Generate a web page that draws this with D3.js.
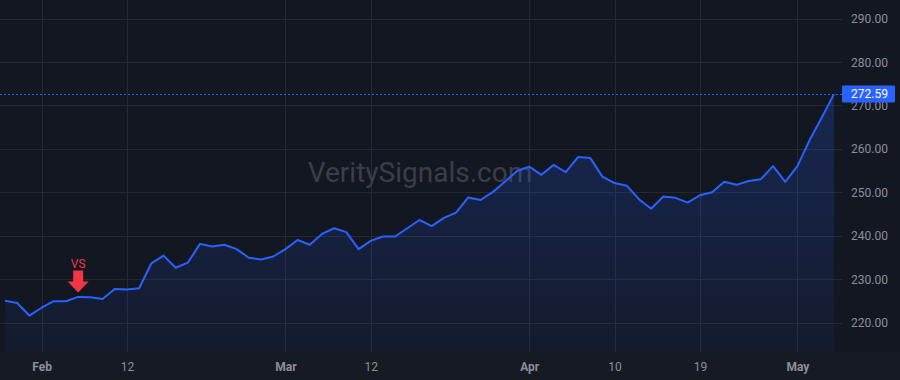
<!DOCTYPE html>
<html>
<head>
<meta charset="utf-8">
<script src="https://cdn.jsdelivr.net/npm/d3@7"></script>
<style>
  html, body { margin: 0; padding: 0; background: #131722; }
  svg { display: block; }
</style>
</head>
<body>
<svg id="chart" width="900" height="380"></svg>
<script>
const dates = [
  "2024-01-29","2024-01-30","2024-01-31",
  "2024-02-01","2024-02-02","2024-02-05","2024-02-06","2024-02-07","2024-02-08","2024-02-09",
  "2024-02-12","2024-02-13","2024-02-14","2024-02-15","2024-02-16","2024-02-20","2024-02-21",
  "2024-02-22","2024-02-23","2024-02-26","2024-02-27","2024-02-28","2024-02-29",
  "2024-03-01","2024-03-04","2024-03-05","2024-03-06","2024-03-07","2024-03-08","2024-03-11",
  "2024-03-12","2024-03-13","2024-03-14","2024-03-15","2024-03-18","2024-03-19","2024-03-20",
  "2024-03-21","2024-03-22","2024-03-25","2024-03-26","2024-03-27","2024-03-28",
  "2024-04-01","2024-04-02","2024-04-03","2024-04-04","2024-04-05","2024-04-08","2024-04-09",
  "2024-04-10","2024-04-11","2024-04-12","2024-04-15","2024-04-16","2024-04-17","2024-04-18",
  "2024-04-19","2024-04-22","2024-04-23","2024-04-24","2024-04-25","2024-04-26","2024-04-29",
  "2024-04-30","2024-05-01","2024-05-02","2024-05-03","2024-05-06"
];
const prices = [
  225.0, 224.5, 221.6,
  223.4, 224.9, 224.9, 225.9, 225.8, 225.4, 227.7,
  227.6, 227.9, 233.6, 235.4, 232.6, 233.8, 238.1,
  237.5, 237.9, 236.9, 234.9, 234.5, 235.2,
  236.9, 239.0, 237.9, 240.4, 241.7, 240.8, 236.9,
  238.8, 239.8, 239.8, 241.7, 243.6, 242.2, 244.1,
  245.3, 248.8, 248.2, 250.0, 252.4, 254.9,
  255.9, 254.0, 256.3, 254.6, 258.1, 257.9, 253.6,
  252.1, 251.5, 248.4, 246.2, 249.0, 248.7, 247.6,
  249.3, 250.0, 252.4, 251.7, 252.6, 253.0, 256.0,
  252.4, 256.0, 262.0, 267.2, 272.59
];
const yTicks = [220, 230, 240, 250, 260, 270, 280, 290];
const xTickDates = ["2024-02-01","2024-02-12","2024-03-01","2024-03-12","2024-04-01","2024-04-10","2024-04-19","2024-05-01"];
const xTickLabels = ["Feb","12","Mar","12","Apr","10","19","May"];
const xTickBold = [true, false, true, false, true, false, false, true];
const markerDate = "2024-02-06";
const markerLabel = "VS";
const lastPrice = 272.59;
const watermark = "VeritySignals.com";

const W = 900, H = 380;
const plotRight = 835, plotBottom = 352;
const svg = d3.select("#chart");

svg.append("rect").attr("width", W).attr("height", H).attr("fill", "#131722");
svg.append("rect").attr("x", 0).attr("y", plotBottom).attr("width", W).attr("height", H - plotBottom).attr("fill", "#161a22");

const x = d3.scalePoint().domain(dates).range([5, 834]);
const y = d3.scaleLinear().domain([220, 290]).range([322.5, 18.5]);

// grid
const grid = svg.append("g");
grid.selectAll("line.h").data(yTicks).join("line")
  .attr("x1", 0).attr("x2", 842)
  .attr("y1", d => Math.round(y(d)) + 0.5).attr("y2", d => Math.round(y(d)) + 0.5)
  .attr("stroke", "#252935").attr("stroke-width", 1);
grid.selectAll("line.v").data(xTickDates).join("line")
  .attr("x1", d => Math.round(x(d)) + 0.5).attr("x2", d => Math.round(x(d)) + 0.5)
  .attr("y1", 0).attr("y2", plotBottom)
  .attr("stroke", "#252935").attr("stroke-width", 1);

// watermark
svg.append("text").attr("x", 420).attr("y", 182).attr("text-anchor", "middle")
  .attr("font-family", "Roboto, 'Noto Sans', sans-serif").attr("font-size", 28)
  .attr("fill", "#3a3e49").text(watermark);

// area gradient
const defs = svg.append("defs");
const grad = defs.append("linearGradient").attr("id", "ag")
  .attr("gradientUnits", "userSpaceOnUse").attr("x1", 0).attr("x2", 0)
  .attr("y1", y(d3.max(prices))).attr("y2", plotBottom);
grad.append("stop").attr("offset", 0).attr("stop-color", "#2962ff").attr("stop-opacity", 0.22);
grad.append("stop").attr("offset", 1).attr("stop-color", "#2962ff").attr("stop-opacity", 0.05);

const pts = dates.map((d, i) => ({ d, v: prices[i] }));
svg.append("path").datum(pts)
  .attr("d", d3.area().x(p => x(p.d)).y0(plotBottom).y1(p => y(p.v)))
  .attr("fill", "url(#ag)");

// last price dotted line
svg.append("line").attr("x1", 0).attr("x2", 842)
  .attr("y1", Math.round(y(lastPrice)) + 0.5).attr("y2", Math.round(y(lastPrice)) + 0.5)
  .attr("stroke", "#2962ff").attr("stroke-width", 1).attr("stroke-dasharray", "2,2");

svg.append("path").datum(pts)
  .attr("d", d3.line().x(p => x(p.d)).y(p => y(p.v)))
  .attr("fill", "none").attr("stroke", "#2962ff").attr("stroke-width", 2)
  .attr("stroke-linejoin", "round");

// y axis labels
const yAxis = d3.axisRight(y).tickValues(yTicks).tickFormat(d3.format(".2f")).tickSize(0);
const ya = svg.append("g").attr("transform", "translate(888,0)").call(yAxis);
ya.select(".domain").remove();
ya.selectAll("text").attr("text-anchor", "end").attr("x", 0).attr("dy", "0.35em")
  .attr("font-family", "Roboto, 'Noto Sans', sans-serif").attr("font-size", 12).attr("fill", "#8c8f99");

// price label
const py = y(lastPrice);
svg.append("rect").attr("x", 842).attr("y", py - 8.5).attr("width", 53).attr("height", 17)
  .attr("fill", "#2962ff").attr("rx", 1);
svg.append("text").attr("x", 888).attr("y", py).attr("dy", "0.35em").attr("text-anchor", "end")
  .attr("font-family", "Roboto, 'Noto Sans', sans-serif").attr("font-size", 12).attr("fill", "#ffffff")
  .text(d3.format(".2f")(lastPrice));

// x axis labels
const xAxis = d3.axisBottom(x).tickValues(xTickDates)
  .tickFormat((d, i) => xTickLabels[i]).tickSize(0);
const xa = svg.append("g").attr("transform", "translate(0,362)").call(xAxis);
xa.select(".domain").remove();
xa.selectAll("text").attr("dy", "0.35em").attr("y", 5)
  .attr("font-family", "Roboto, 'Noto Sans', sans-serif").attr("font-size", 12)
  .attr("fill", "#8c8f99")
  .attr("font-weight", (d, i) => xTickBold[i] ? "bold" : "normal");

// VS marker
const mx = x(markerDate);
const mi = dates.indexOf(markerDate);
const tipY = y(prices[mi]) - 4.5;
svg.append("path")
  .attr("d", `M${mx - 5},${tipY - 22} L${mx + 5},${tipY - 22} L${mx + 5},${tipY - 11} L${mx + 10.5},${tipY - 11} L${mx},${tipY} L${mx - 10.5},${tipY - 11} L${mx - 5},${tipY - 11} Z`)
  .attr("fill", "#f23645");
svg.append("text").attr("x", mx).attr("y", tipY - 29).attr("dy", "0.35em").attr("text-anchor", "middle")
  .attr("font-family", "Roboto, 'Noto Sans', sans-serif").attr("font-size", 12).attr("fill", "#f23645")
  .text(markerLabel);
</script>
</body>
</html>
